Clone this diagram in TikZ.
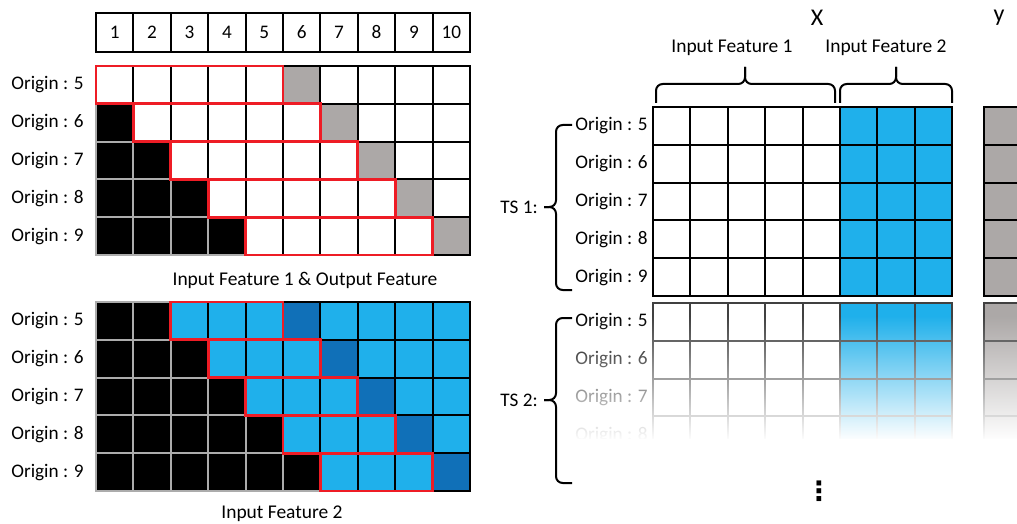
\documentclass[tikz,border=0pt]{standalone}
\usepackage{fontspec}
\setmainfont{Carlito}
\newfontfamily\symfont{DejaVu Sans}
\usetikzlibrary{positioning,fadings}

\definecolor{cellblue}{HTML}{1FB0EB}
\definecolor{darkcell}{HTML}{1070B8}
\definecolor{targetgray}{HTML}{ACA8A7}
\definecolor{winred}{HTML}{EE1C25}

% white veil for the second series: clear at the top, solid at the bottom
\tikzfading[name=fadedown, top color=transparent!100, bottom color=transparent!0]

\begin{document}
\begin{tikzpicture}[
  x=0.75pt, y=-0.75pt,
  cell/.style={draw=black, line width=1.5pt},
  pad/.style={fill=black, draw=gray!65, line width=1.5pt},
  window/.style={draw=winred, line width=2.2pt},
  hdr/.style={draw=black, line width=1.5pt, minimum width=28.05pt, minimum height=29.25pt,
              inner sep=0pt, font=\fontsize{14.4}{17}\selectfont},
  origin/.style={anchor=east, inner sep=0pt, font=\fontsize{14.4}{17}\selectfont},
  caption/.style={inner sep=0pt, font=\fontsize{14.6}{17}\selectfont},
  axis/.style={inner sep=0pt, font=\fontsize{18}{20}\selectfont},
  bracket/.style={line width=1.5pt, rounded corners=5pt}
]
\useasboundingbox (0,0) rectangle (1017,524);
\clip (0,0) rectangle (1017,524);

% Time steps
\foreach \c in {1,...,10}
  \node[hdr] (hdr\c) at ({96+(\c-0.5)*37.4},32.5) {\c};

% Input feature 1 & output feature, one row per origin
\foreach \o [count=\r from 0] in {5,...,9} {
  \node[origin] (lbltop\o) at (84,{66+(\r+0.5)*37.8}) {Origin : \o};
  \foreach \c in {1,...,10} {
    \pgfmathsetmacro\xl{96+(\c-1)*37.4}
    \pgfmathsetmacro\yt{66+\r*37.8}
    \ifnum\c>\r
      \ifnum\c=\numexpr\r+6\relax \def\cellfill{targetgray}\else\def\cellfill{white}\fi
      \draw[cell, fill=\cellfill] (\xl,\yt) rectangle ++(37.4,37.8);
    \else
      \draw[pad] (\xl,\yt) rectangle ++(37.4,37.8);
    \fi
  }
}
\foreach \r in {0,...,4}
  \draw[window] ({96+\r*37.4},{66+\r*37.8}) rectangle ++(187,37.8);
\node[caption] (captop) at (305,280) {Input Feature 1 \& Output Feature};

% Input feature 2
\foreach \o [count=\r from 0] in {5,...,9} {
  \node[origin] (lblbot\o) at (84,{302+(\r+0.5)*37.8}) {Origin : \o};
  \foreach \c in {1,...,10} {
    \pgfmathsetmacro\xl{96+(\c-1)*37.4}
    \pgfmathsetmacro\yt{302+\r*37.8}
    \ifnum\c>\numexpr\r+2\relax
      \ifnum\c=\numexpr\r+6\relax \def\cellfill{darkcell}\else\def\cellfill{cellblue}\fi
      \draw[cell, fill=\cellfill] (\xl,\yt) rectangle ++(37.4,37.8);
    \else
      \draw[pad] (\xl,\yt) rectangle ++(37.4,37.8);
    \fi
  }
}
\foreach \r in {0,...,4}
  \draw[window] ({96+(\r+2)*37.4},{302+\r*37.8}) rectangle ++(112.2,37.8);
\node[caption] (capbot) at (282,514) {Input Feature 2};

% Model inputs X and target y
\node[axis] (xlbl) at (817,18) {X};
\node[axis] (ylbl) at (999,18) {y};
\node[caption] (feat1) at (732,48) {Input Feature 1};
\node[caption] (feat2) at (886,48) {Input Feature 2};
\coordinate (f1a) at (656,103);
\coordinate (f1b) at (835,103);
\coordinate (f1mid) at (745,84);
\coordinate (f1tip) at (745,67);
\coordinate (f2a) at (840,103);
\coordinate (f2b) at (952,103);
\coordinate (f2mid) at (896,84);
\coordinate (f2tip) at (896,67);
\draw[bracket] (f1a) |- (f1mid) -- (f1tip);
\draw[bracket] (f1b) |- (f1mid) -- (f1tip);
\draw[bracket] (f2a) |- (f2mid) -- (f2tip);
\draw[bracket] (f2b) |- (f2mid) -- (f2tip);

% TS 1
\foreach \o [count=\r from 0] in {5,...,9} {
  \node[origin] (ts1o\o) at (648,{107+(\r+0.5)*37.8}) {Origin : \o};
  \foreach \c in {1,...,8} {
    \ifnum\c<6 \def\cellfill{white}\else\def\cellfill{cellblue}\fi
    \draw[cell, fill=\cellfill] ({653+(\c-1)*37.4},{107+\r*37.8}) rectangle ++(37.4,37.8);
  }
  \draw[cell, fill=targetgray] (984,{107+\r*37.8}) rectangle ++(37.4,37.8);
}
\coordinate (ts1a) at (572,125);
\coordinate (ts1b) at (572,290);
\coordinate (ts1mid) at (556,207);
\coordinate (ts1tip) at (544,207);
\draw[bracket] (ts1a) -| (ts1mid) -- (ts1tip);
\draw[bracket] (ts1b) -| (ts1mid) -- (ts1tip);
\node[origin] (ts1) at (538,207) {TS 1:};

% TS 2, fading out
\foreach \o [count=\r from 0] in {5,...,9} {
  \node[origin] (ts2o\o) at (648,{303+(\r+0.5)*37.8}) {Origin : \o};
  \foreach \c in {1,...,8} {
    \ifnum\c<6 \def\cellfill{white}\else\def\cellfill{cellblue}\fi
    \draw[cell, draw=black!75, fill=\cellfill] ({653+(\c-1)*37.4},{303+\r*37.8}) rectangle ++(37.4,37.8);
  }
  \draw[cell, draw=black!75, fill=targetgray] (984,{303+\r*37.8}) rectangle ++(37.4,37.8);
}
\fill[white, path fading=fadedown] (575,316) rectangle (1017,440);
\fill[white] (575,439) rectangle (1017,524);
\coordinate (ts2a) at (572,318);
\coordinate (ts2b) at (572,483);
\coordinate (ts2mid) at (556,400);
\coordinate (ts2tip) at (544,400);
\draw[bracket] (ts2a) -| (ts2mid) -- (ts2tip);
\draw[bracket] (ts2b) -| (ts2mid) -- (ts2tip);
\node[origin] (ts2) at (538,400) {TS 2:};
\node[inner sep=0pt, font=\symfont\bfseries\fontsize{20}{20}\selectfont] (more) at (819,491) {⋮};
\end{tikzpicture}
\end{document}
